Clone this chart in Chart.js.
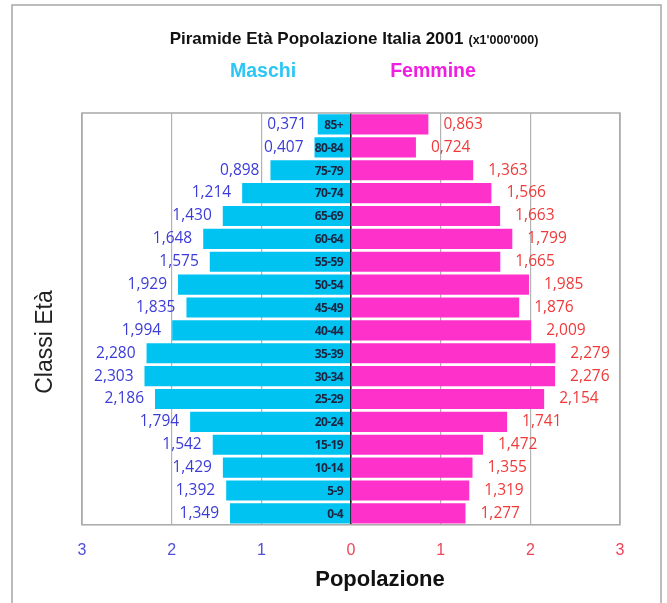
<!DOCTYPE html>
<html lang="it">
<head>
<meta charset="utf-8">
<title>Piramide Età Popolazione Italia 2001</title>
<script src="https://cdn.jsdelivr.net/npm/chart.js@4/dist/chart.umd.min.js"></script>
<style>
  html, body { margin: 0; padding: 0; background: #ffffff; }
  #pyramid { display: block; }
</style>
</head>
<body>
<canvas id="pyramid" width="667" height="603"></canvas>
<script>
// age classes, youngest first (axis is reversed so 0-4 sits at the bottom)
const ageClasses = ["0-4", "5-9", "10-14", "15-19", "20-24", "25-29", "30-34", "35-39", "40-44",
  "45-49", "50-54", "55-59", "60-64", "65-69", "70-74", "75-79", "80-84", "85+"];

// millions of people
const maleValues = [1.349, 1.392, 1.429, 1.542, 1.794, 2.186, 2.303, 2.280, 1.994,
  1.835, 1.929, 1.575, 1.648, 1.430, 1.214, 0.898, 0.407, 0.371];
const femaleValues = [1.277, 1.319, 1.355, 1.472, 1.741, 2.154, 2.276, 2.279, 2.009,
  1.876, 1.985, 1.665, 1.799, 1.663, 1.566, 1.363, 0.724, 0.863];

const xTicks = [-3, -2, -1, 0, 1, 2, 3];

const chartTitle = "Piramide Età Popolazione Italia 2001";
const chartSubtitle = "(x1'000'000)";
const maleLabel = "Maschi";
const femaleLabel = "Femmine";
const xTitle = "Popolazione";
const yTitle = "Classi Età";

const maleColor = "#00c3f2";
const femaleColor = "#fe32cb";

function formatValue(value) {
  return Math.abs(value).toFixed(3).replace(".", ",");
}

const pyramidDecor = {
  id: "pyramidDecor",
  beforeDraw(chart) {
    const ctx = chart.ctx;
    ctx.save();
    ctx.fillStyle = "#ffffff";
    ctx.fillRect(0, 0, chart.width, chart.height);
    ctx.strokeStyle = "#a6a6a6";
    ctx.lineWidth = 1.5;
    ctx.strokeRect(12, 5, 649, 640);
    ctx.restore();
  },
  beforeDatasetsDraw(chart) {
    const { ctx, chartArea } = chart;
    ctx.save();
    ctx.strokeStyle = "#a8a8a8";
    ctx.lineWidth = 1.5;
    ctx.strokeRect(chartArea.left, chartArea.top, chartArea.right - chartArea.left, chartArea.bottom - chartArea.top);
    ctx.restore();
  },
  afterDatasetsDraw(chart) {
    const ctx = chart.ctx;
    const xScale = chart.scales.x;
    const zeroX = xScale.getPixelForValue(0);
    ctx.save();
    ctx.textBaseline = "middle";

    // value labels
    ctx.font = "15.5px 'Open Sans', sans-serif";
    chart.getDatasetMeta(0).data.forEach((bar, i) => {
      ctx.fillStyle = "#3b3bd8";
      ctx.textAlign = "right";
      ctx.fillText(formatValue(maleValues[i]), bar.x - 11, bar.y);
    });
    chart.getDatasetMeta(1).data.forEach((bar, i) => {
      ctx.fillStyle = "#f03a3a";
      ctx.textAlign = "left";
      ctx.fillText(formatValue(femaleValues[i]), bar.x + 15, bar.y);
    });

    // age class labels, inside the male bars next to the centre line
    ctx.font = "bold 12px 'Open Sans', sans-serif";
    ctx.letterSpacing = "-0.6px";
    ctx.fillStyle = "#1c2542";
    ctx.textAlign = "right";
    chart.getDatasetMeta(0).data.forEach((bar, i) => {
      ctx.fillText(ageClasses[i], zeroX - 8, bar.y + 1);
    });
    ctx.restore();
  },
  afterDraw(chart) {
    const ctx = chart.ctx;
    ctx.save();
    ctx.textBaseline = "alphabetic";

    // title
    ctx.fillStyle = "#111111";
    ctx.textAlign = "left";
    ctx.font = "bold 17px 'Liberation Sans', Arial, sans-serif";
    const mainWidth = ctx.measureText(chartTitle).width;
    ctx.font = "bold 12.5px 'Liberation Sans', Arial, sans-serif";
    const subWidth = ctx.measureText(chartSubtitle).width;
    const startX = 354 - (mainWidth + 5 + subWidth) / 2;
    ctx.font = "bold 17px 'Liberation Sans', Arial, sans-serif";
    ctx.fillText(chartTitle, startX, 44);
    ctx.font = "bold 12.5px 'Liberation Sans', Arial, sans-serif";
    ctx.fillText(chartSubtitle, startX + mainWidth + 5, 44);

    // series names
    ctx.textAlign = "center";
    ctx.font = "bold 19.5px 'Liberation Sans', Arial, sans-serif";
    ctx.fillStyle = "#2cc6f4";
    ctx.fillText(maleLabel, 263, 77);
    ctx.fillStyle = "#f01ee0";
    ctx.fillText(femaleLabel, 433, 77);

    // axis titles
    ctx.fillStyle = "#111111";
    ctx.font = "bold 22px 'Liberation Sans', Arial, sans-serif";
    ctx.fillText(xTitle, 380, 586);

    ctx.translate(46, 342);
    ctx.rotate(-Math.PI / 2);
    ctx.textBaseline = "middle";
    ctx.fillStyle = "#222222";
    ctx.font = "23px 'Liberation Sans', Arial, sans-serif";
    ctx.fillText(yTitle, 0, 0);
    ctx.restore();
  },
};

function buildPyramid() {
  new Chart(document.getElementById("pyramid"), {
    type: "bar",
    data: {
      labels: ageClasses,
      datasets: [
        {
          label: maleLabel,
          data: maleValues.map((v) => -v),
          backgroundColor: maleColor,
          barPercentage: 0.88,
          categoryPercentage: 1.0,
        },
        {
          label: femaleLabel,
          data: femaleValues,
          backgroundColor: femaleColor,
          barPercentage: 0.88,
          categoryPercentage: 1.0,
        },
      ],
    },
    options: {
      indexAxis: "y",
      responsive: false,
      animation: false,
      layout: {
        padding: { left: 82, right: 47, top: 113, bottom: 27 },
      },
      plugins: {
        legend: { display: false },
        tooltip: { enabled: false },
        title: { display: false },
      },
      scales: {
        x: {
          stacked: true,
          min: xTicks[0],
          max: xTicks[xTicks.length - 1],
          afterBuildTicks: (scale) => {
            scale.ticks = xTicks.map((value) => ({ value }));
          },
          grid: {
            drawTicks: false,
            color: (ctx) => (ctx.tick && ctx.tick.value === 0 ? "#1a1a1a" : "#b3b3b3"),
            lineWidth: (ctx) => (ctx.tick && ctx.tick.value === 0 ? 1.6 : 1.2),
          },
          border: { display: false },
          ticks: {
            padding: 16,
            font: { family: "'Liberation Sans', Arial, sans-serif", size: 16 },
            color: (ctx) => (ctx.tick.value < 0 ? "#4f4fd8" : "#ee4457"),
            callback: (value) => String(Math.abs(value)),
          },
        },
        y: {
          stacked: true,
          reverse: true,
          display: false,
        },
      },
    },
    plugins: [pyramidDecor],
  });
}

buildPyramid();
</script>
</body>
</html>
